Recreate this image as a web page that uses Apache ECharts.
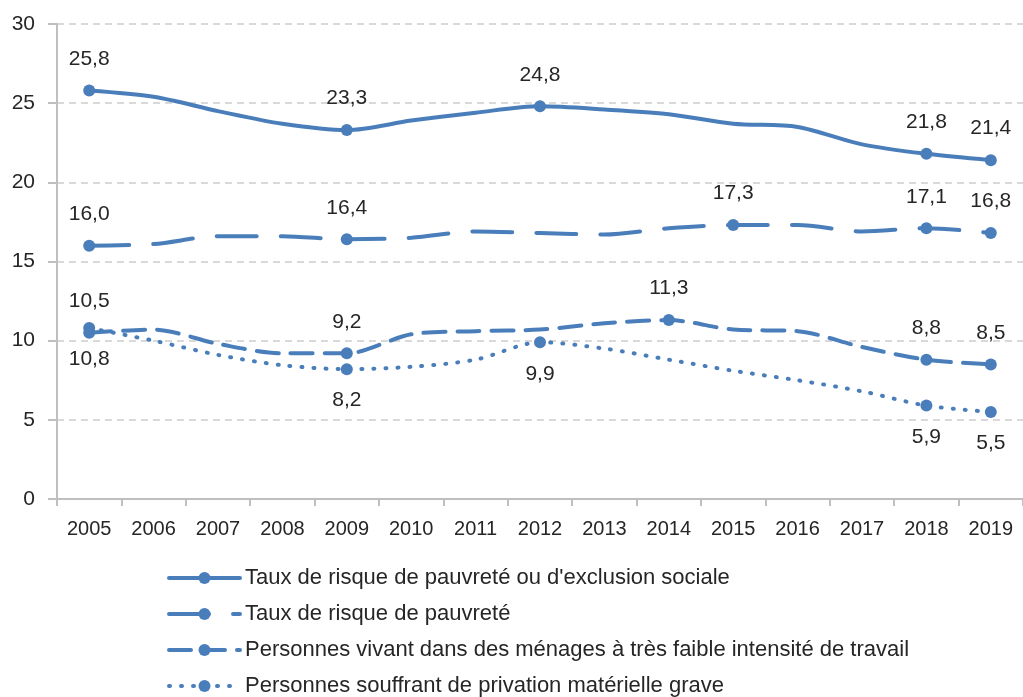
<!DOCTYPE html>
<html>
<head>
<meta charset="utf-8">
<script src="https://cdn.jsdelivr.net/npm/echarts@6/dist/echarts.min.js"></script>
<style>
  html, body { margin: 0; padding: 0; background: #fff; }
  #chart { width: 1023px; height: 697px; }
</style>
</head>
<body>
<div id="chart"></div>
<script>
var years = ['2005','2006','2007','2008','2009','2010','2011','2012','2013','2014','2015','2016','2017','2018','2019'];

var names = [
  "Taux de risque de pauvreté ou d'exclusion sociale",
  "Taux de risque de pauvreté",
  "Personnes vivant dans des ménages à très faible intensité de travail",
  "Personnes souffrant de privation matérielle grave"
];

// valeurs (points intermédiaires estimés)
var exclusion = [25.8, 25.4, 24.5, 23.7, 23.3, 23.9, 24.4, 24.8, 24.6, 24.3, 23.7, 23.5, 22.4, 21.8, 21.4];
var pauvrete  = [16.0, 16.1, 16.6, 16.6, 16.4, 16.5, 16.9, 16.8, 16.7, 17.1, 17.3, 17.3, 16.9, 17.1, 16.8];
var menages   = [10.5, 10.7, 9.8, 9.2, 9.2, 10.4, 10.6, 10.7, 11.1, 11.3, 10.7, 10.6, 9.6, 8.8, 8.5];
var privation = [10.8, 10.0, 9.1, 8.45, 8.2, 8.35, 8.8, 9.9, 9.5, 8.8, 8.1, 7.5, 6.8, 5.9, 5.5];

// années avec marqueur et étiquette
var marksExclusion = [0, 4, 7, 13, 14];
var marksPauvrete  = [0, 4, 10, 13, 14];
var marksMenages   = [0, 4, 9, 13, 14];
var marksPrivation = [0, 4, 7, 13, 14];

var blue = '#4a7ebb';
var txt = '#262626';
var font = 'Liberation Sans';

function mkData(vals, marks) {
  return vals.map(function (v, i) {
    var on = marks.indexOf(i) >= 0;
    return { value: v, symbolSize: on ? 12 : 0, label: { show: on } };
  });
}

function mkSeries(name, vals, marks, lineType, labelPos) {
  return {
    name: name,
    type: 'line',
    smooth: 0.3,
    symbol: 'circle',
    symbolSize: 12,
    showAllSymbol: true,
    color: blue,
    lineStyle: { width: 4, color: blue, type: lineType, cap: 'round' },
    itemStyle: { color: blue },
    label: {
      position: labelPos,
      distance: 15,
      fontFamily: font,
      fontSize: 21,
      color: txt,
      formatter: function (p) { return p.value.toFixed(1).replace('.', ','); }
    },
    emphasis: { disabled: true },
    data: mkData(vals, marks)
  };
}

var chart = echarts.init(document.getElementById('chart'), null, { renderer: 'canvas' });

chart.setOption({
  backgroundColor: '#fff',
  animation: false,
  grid: { left: 57, right: -10, top: 24, bottom: 198, containLabel: false },
  legend: {
    orient: 'vertical',
    left: 167,
    top: 567,
    padding: 0,
    itemWidth: 71,
    itemHeight: 15,
    itemGap: 14,
    lineStyle: { width: 4 },
    textStyle: { fontFamily: font, fontSize: 22, lineHeight: 22, color: txt },
    data: names
  },
  xAxis: {
    type: 'category',
    data: years,
    boundaryGap: true,
    axisLine: { lineStyle: { color: '#bfbfbf', width: 2 } },
    axisTick: { show: true, length: 7, lineStyle: { color: '#bfbfbf', width: 2 } },
    axisLabel: { fontFamily: font, fontSize: 20, color: txt, margin: 20, interval: 0 }
  },
  yAxis: {
    type: 'value',
    min: 0,
    max: 30,
    interval: 5,
    axisLine: { show: true, lineStyle: { color: '#bfbfbf', width: 2 } },
    axisTick: { show: true, length: 9, lineStyle: { color: '#bfbfbf', width: 2 } },
    axisLabel: { fontFamily: font, fontSize: 21, color: txt, margin: 22 },
    splitLine: { lineStyle: { color: '#d9d9d9', width: 2, type: [7, 5] } }
  },
  series: [
    mkSeries(names[0], exclusion, marksExclusion, 'solid', 'top'),
    mkSeries(names[1], pauvrete, marksPauvrete, [40, 24], 'top'),
    mkSeries(names[2], menages, marksMenages, [22, 12], 'top'),
    mkSeries(names[3], privation, marksPrivation, [1, 11], 'bottom')
  ]
});
</script>
</body>
</html>
